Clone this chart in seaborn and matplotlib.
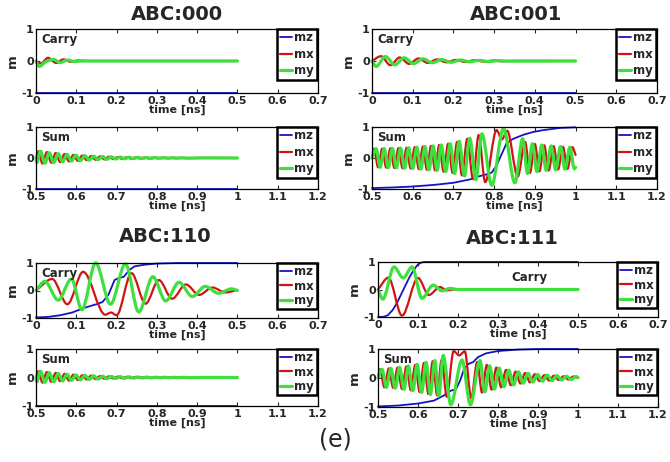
import matplotlib
matplotlib.use("Agg")
import matplotlib.pyplot as plt
from matplotlib.path import Path
from matplotlib.patches import PathPatch
from matplotlib.lines import Line2D
import seaborn as sns
import pandas as pd

# ---------------- data: (time [ns], m) points of each trace ----------------
carry_ticklabels = ["0", "0.1", "0.2", "0.3", "0.4", "0.5", "0.6", "0.7"]
sum_ticklabels = ["0.5", "0.6", "0.7", "0.8", "0.9", "1", "1.1", "1.2"]
titles = ["ABC:000", "ABC:001", "ABC:110", "ABC:111"]

# ABC:000 carry
c000_mz = [(0.0, -1.0), (0.5, -1.0)]
c000_mx = [(0.0, 0.0), (0.012, -0.08), (0.030, 0.10), (0.050, -0.06), (0.068, 0.05),
           (0.086, -0.025), (0.104, 0.015), (0.125, 0.0), (0.5, 0.0)]
c000_my = [(0.0, 0.0), (0.008, -0.17), (0.025, -0.02), (0.043, 0.05), (0.060, -0.05),
           (0.078, 0.03), (0.096, -0.015), (0.115, 0.0), (0.5, 0.0)]

# ABC:000 / ABC:110 sum (no switching)
s000_mz = [(0.5, -1.0), (1.0, -1.0)]
s000_mx = [(0.500, 0.0), (0.506, 0.22), (0.516, -0.18), (0.527, 0.19), (0.538, -0.15),
           (0.549, 0.16), (0.560, -0.13), (0.571, 0.13), (0.582, -0.11), (0.593, 0.10),
           (0.604, -0.09), (0.615, 0.08), (0.626, -0.07), (0.637, 0.065), (0.648, -0.055),
           (0.659, 0.05), (0.670, -0.045), (0.681, 0.04), (0.692, -0.035), (0.703, 0.03),
           (0.714, -0.027), (0.725, 0.024), (0.736, -0.021), (0.747, 0.019), (0.758, -0.017),
           (0.769, 0.015), (0.780, -0.013), (0.791, 0.012), (0.802, -0.011), (0.813, 0.010),
           (0.824, -0.009), (0.835, 0.008), (0.846, -0.007), (0.857, 0.006), (0.870, -0.005),
           (0.900, 0.003), (1.000, 0.0)]
s000_my = [(0.500, 0.0), (0.502, -0.15), (0.511, 0.22), (0.522, -0.17), (0.533, 0.17),
           (0.544, -0.15), (0.555, 0.14), (0.566, -0.12), (0.577, 0.115), (0.588, -0.10),
           (0.599, 0.09), (0.610, -0.085), (0.621, 0.075), (0.632, -0.068), (0.643, 0.06),
           (0.654, -0.052), (0.665, 0.047), (0.676, -0.042), (0.687, 0.037), (0.698, -0.032),
           (0.709, 0.029), (0.720, -0.026), (0.731, 0.023), (0.742, -0.02), (0.753, 0.018),
           (0.764, -0.016), (0.775, 0.014), (0.786, -0.013), (0.797, 0.012), (0.808, -0.011),
           (0.819, 0.01), (0.830, -0.009), (0.841, 0.008), (0.852, -0.007), (0.863, 0.006),
           (0.880, -0.005), (0.920, 0.002), (1.000, 0.0)]

# ABC:001 carry
c001_mz = [(0.0, -1.0), (0.5, -1.0)]
c001_mx = [(0.0, 0.0), (0.022, 0.15), (0.045, -0.13), (0.068, 0.11), (0.091, -0.09),
           (0.114, 0.08), (0.137, -0.06), (0.160, 0.05), (0.183, -0.04), (0.206, 0.035),
           (0.229, -0.03), (0.252, 0.025), (0.275, -0.02), (0.298, 0.015), (0.320, -0.01),
           (0.350, 0.005), (0.5, 0.0)]
c001_my = [(0.0, 0.0), (0.010, -0.17), (0.033, 0.14), (0.056, -0.12), (0.079, 0.10),
           (0.102, -0.085), (0.125, 0.07), (0.148, -0.055), (0.171, 0.045), (0.194, -0.04),
           (0.217, 0.03), (0.240, -0.025), (0.263, 0.02), (0.286, -0.015), (0.310, 0.01),
           (0.340, -0.005), (0.5, 0.0)]

# ABC:001 sum (switches -1 -> +1)
s001_mz = [(0.500, -0.97), (0.550, -0.95), (0.600, -0.92), (0.650, -0.87), (0.700, -0.80),
           (0.741, -0.69), (0.760, -0.60), (0.778, -0.54), (0.794, -0.47), (0.806, -0.24),
           (0.819, 0.14), (0.831, 0.49), (0.847, 0.62), (0.872, 0.75), (0.896, 0.84),
           (0.921, 0.90), (0.962, 0.97), (1.000, 0.99)]
s001_mx = [(0.500, 0.0), (0.505, 0.30), (0.515, -0.30), (0.525, 0.30), (0.535, -0.31),
           (0.545, 0.31), (0.555, -0.32), (0.565, 0.32), (0.575, -0.33), (0.585, 0.33),
           (0.595, -0.34), (0.605, 0.35), (0.615, -0.36), (0.625, 0.37), (0.635, -0.38),
           (0.645, 0.39), (0.655, -0.40), (0.665, 0.42), (0.676, -0.44), (0.687, 0.46),
           (0.698, -0.48), (0.709, 0.52), (0.721, -0.56), (0.734, 0.62), (0.748, -0.68),
           (0.762, 0.74), (0.778, -0.78), (0.806, 0.90), (0.819, 0.60), (0.832, 0.88),
           (0.858, -0.60), (0.876, 0.52), (0.888, -0.48), (0.900, 0.45), (0.911, -0.43),
           (0.923, 0.41), (0.934, -0.40), (0.946, 0.38), (0.957, -0.37), (0.969, 0.36),
           (0.980, -0.35), (0.992, 0.35), (1.000, 0.10)]
s001_my = [(0.500, 0.0), (0.510, 0.30), (0.520, -0.30), (0.530, 0.30), (0.540, -0.31),
           (0.550, 0.31), (0.560, -0.32), (0.570, 0.32), (0.580, -0.33), (0.590, 0.33),
           (0.600, -0.34), (0.610, 0.35), (0.620, -0.36), (0.630, 0.37), (0.640, -0.38),
           (0.650, 0.39), (0.660, -0.40), (0.670, 0.42), (0.681, -0.44), (0.692, 0.46),
           (0.703, -0.50), (0.714, 0.54), (0.727, -0.58), (0.740, 0.64), (0.755, -0.70),
           (0.770, 0.78), (0.794, -0.88), (0.823, 0.95), (0.851, -0.80), (0.870, 0.62),
           (0.882, -0.50), (0.894, 0.46), (0.905, -0.44), (0.917, 0.42), (0.928, -0.40),
           (0.940, 0.39), (0.951, -0.38), (0.963, 0.37), (0.974, -0.36), (0.986, 0.35),
           (0.997, -0.35), (1.000, -0.30)]

# ABC:110 carry (switches -1 -> +1)
c110_mz = [(0.0, -0.98), (0.030, -0.96), (0.060, -0.90), (0.090, -0.80), (0.120, -0.63),
           (0.150, -0.50), (0.165, -0.42), (0.180, -0.15), (0.195, 0.38), (0.205, 0.45),
           (0.218, 0.50), (0.232, 0.75), (0.245, 0.88), (0.270, 0.94), (0.300, 0.98),
           (0.350, 1.0), (0.5, 1.0)]
c110_mx = [(0.0, 0.0), (0.040, 0.42), (0.078, -0.50), (0.117, 0.68), (0.172, -0.88),
           (0.186, -0.80), (0.200, -0.90), (0.237, 0.63), (0.272, -0.48), (0.305, 0.38),
           (0.338, -0.30), (0.372, 0.22), (0.405, -0.16), (0.438, 0.11), (0.470, -0.07),
           (0.5, 0.02)]
c110_my = [(0.0, 0.0), (0.022, 0.33), (0.055, -0.35), (0.088, 0.42), (0.114, -0.70),
           (0.148, 1.0), (0.185, -0.50), (0.222, 0.97), (0.255, -0.78), (0.290, 0.50),
           (0.322, -0.38), (0.355, 0.30), (0.388, -0.22), (0.420, 0.15), (0.453, -0.10),
           (0.485, 0.06), (0.5, 0.0)]

# ABC:111 carry (fast switching)
c111_mz = [(0.0, -1.0), (0.015, -0.99), (0.025, -0.93), (0.037, -0.74), (0.047, -0.50),
           (0.057, -0.20), (0.067, 0.10), (0.077, 0.40), (0.088, 0.68), (0.098, 0.88),
           (0.106, 0.97), (0.115, 1.0), (0.5, 1.0)]
c111_mx = [(0.0, 0.0), (0.026, 0.43), (0.060, -0.95), (0.100, 0.42), (0.127, -0.20),
           (0.155, 0.09), (0.172, -0.03), (0.190, 0.0), (0.5, 0.0)]
c111_my = [(0.0, 0.0), (0.012, -0.35), (0.040, 0.82), (0.063, 0.42), (0.085, 0.82),
           (0.110, -0.32), (0.138, 0.16), (0.160, -0.05), (0.180, 0.04), (0.200, 0.0),
           (0.5, 0.0)]

# ABC:111 sum (switches -1 -> +1)
s111_mz = [(0.500, -0.98), (0.550, -0.95), (0.600, -0.88), (0.640, -0.78), (0.665, -0.60),
           (0.680, -0.45), (0.695, -0.38), (0.705, -0.10), (0.715, 0.30), (0.725, 0.48),
           (0.738, 0.55), (0.750, 0.72), (0.770, 0.85), (0.800, 0.93), (0.850, 0.98),
           (0.900, 1.0), (1.000, 1.0)]
s111_mx = [(0.500, 0.0), (0.505, 0.30), (0.516, -0.32), (0.527, 0.33), (0.538, -0.34),
           (0.549, 0.36), (0.560, -0.38), (0.571, 0.40), (0.582, -0.42), (0.593, 0.45),
           (0.604, -0.48), (0.615, 0.52), (0.626, -0.55), (0.637, 0.58), (0.648, -0.60),
           (0.659, 0.62), (0.672, -0.65), (0.689, 0.93), (0.703, 0.78), (0.717, 0.92),
           (0.733, -0.70), (0.748, 0.55), (0.760, -0.50), (0.772, 0.45), (0.784, -0.40),
           (0.796, 0.36), (0.808, -0.32), (0.820, 0.28), (0.832, -0.25), (0.844, 0.22),
           (0.856, -0.19), (0.868, 0.17), (0.880, -0.15), (0.892, 0.13), (0.904, -0.11),
           (0.916, 0.10), (0.928, -0.09), (0.940, 0.08), (0.952, -0.07), (0.964, 0.06),
           (0.976, -0.05), (0.988, 0.05), (1.000, 0.0)]
s111_my = [(0.500, 0.0), (0.510, 0.30), (0.521, -0.32), (0.532, 0.33), (0.543, -0.35),
           (0.554, 0.37), (0.565, -0.39), (0.576, 0.41), (0.587, -0.44), (0.598, 0.47),
           (0.609, -0.50), (0.620, 0.54), (0.631, -0.57), (0.642, 0.60), (0.652, -0.62),
           (0.663, 0.78), (0.682, -0.92), (0.710, 0.62), (0.731, -0.92), (0.755, 0.60),
           (0.767, -0.48), (0.779, 0.42), (0.791, -0.38), (0.803, 0.34), (0.815, -0.30),
           (0.827, 0.27), (0.839, -0.24), (0.851, 0.21), (0.863, -0.18), (0.875, 0.16),
           (0.887, -0.14), (0.899, 0.12), (0.911, -0.11), (0.923, 0.10), (0.935, -0.09),
           (0.947, 0.08), (0.959, -0.07), (0.971, 0.06), (0.983, -0.05), (0.995, 0.05),
           (1.000, 0.02)]

# ---------------- styling ----------------
sns.set_style("ticks")
plt.rcParams["font.family"] = ["DejaVu Sans"]
plt.rcParams["font.weight"] = "bold"
plt.rcParams["axes.labelweight"] = "bold"

BLUE, RED, GREEN = "#1414c4", "#d01414", "#3ee03e"
LW = {"mz": 1.3, "mx": 1.6, "my": 2.3}
W, H = 670, 462
fig = plt.figure(figsize=(W / 100, H / 100), dpi=100)


def rect(l, t, r, b):
    return [l / W, 1 - b / H, (r - l) / W, (b - t) / H]


def monotone_path(pts):
    """Smooth monotone cubic (Bezier) curve through the given points."""
    t = [p[0] for p in pts]
    v = [p[1] for p in pts]
    n = len(t)
    sec = [(v[i + 1] - v[i]) / (t[i + 1] - t[i]) for i in range(n - 1)]
    slope = [sec[0]] + [0.0] * (n - 2) + [sec[-1]]
    for i in range(1, n - 1):
        if sec[i - 1] * sec[i] > 0:
            slope[i] = 2.0 / (1.0 / sec[i - 1] + 1.0 / sec[i])
    verts, codes = [(t[0], v[0])], [Path.MOVETO]
    for i in range(n - 1):
        d = (t[i + 1] - t[i]) / 3.0
        verts += [(t[i] + d, v[i] + slope[i] * d),
                  (t[i + 1] - d, v[i + 1] - slope[i + 1] * d),
                  (t[i + 1], v[i + 1])]
        codes += [Path.CURVE4] * 3
    return Path(verts, codes)


def panel(box, mz, mx, my, start, ticklabels, tag, tag_pos=(0.018, 0.93),
          tag_ha="left", spacing=0.3):
    ax = fig.add_axes(rect(*box))
    df = pd.DataFrame(mz, columns=["t", "m"])
    sns.lineplot(data=df, x="t", y="m", color=BLUE, linewidth=LW["mz"], sort=False,
                 estimator=None, ax=ax, clip_on=False, zorder=2)
    for pts, color, name, z in ((mx, RED, "mx", 2.1), (my, GREEN, "my", 2.2)):
        ax.add_patch(PathPatch(monotone_path(pts), facecolor="none", edgecolor=color,
                               linewidth=LW[name], joinstyle="round", capstyle="round",
                               clip_on=False, zorder=z))
    ax.set_xlim(start, start + 0.7)
    ax.set_ylim(-1, 1)
    ax.set_xticks([start + 0.1 * i for i in range(8)])
    ax.set_xticklabels(ticklabels)
    ax.set_yticks([-1, 0, 1])
    ax.set_yticklabels(["-1", "0", "1"])
    ax.tick_params(direction="in", length=3, width=0.8, top=True, right=True,
                   labelsize=8, pad=1.5)
    ax.tick_params(axis="x", pad=2.5)
    ax.set_xlabel("time [ns]", fontsize=8, labelpad=-1)
    ax.set_ylabel("m", fontsize=9.5, labelpad=2)
    for s in ax.spines.values():
        s.set_linewidth(0.9)
        s.set_color("black")
    ax.text(*tag_pos, tag, transform=ax.transAxes, ha=tag_ha, va="top",
            fontsize=8.5, fontweight="bold")
    handles = [Line2D([], [], color=c, linewidth=LW[n]) for c, n in
               ((BLUE, "mz"), (RED, "mx"), (GREEN, "my"))]
    leg = ax.legend(handles, ["mz", "mx", "my"], loc="upper right",
                    bbox_to_anchor=(0.995, 1.0), borderaxespad=0.0,
                    frameon=True, fancybox=False, edgecolor="black", framealpha=1,
                    handlelength=1.0, handletextpad=0.25, labelspacing=spacing,
                    borderpad=0.2, prop={"weight": "bold", "size": 8.5})
    leg.get_frame().set_linewidth(1.8)
    return ax


# top row
panel((36, 29, 318, 93), c000_mz, c000_mx, c000_my, 0.0, carry_ticklabels, "Carry")
panel((36, 127, 318, 189), s000_mz, s000_mx, s000_my, 0.5, sum_ticklabels, "Sum")
panel((372, 29, 657, 93), c001_mz, c001_mx, c001_my, 0.0, carry_ticklabels, "Carry")
panel((372, 127, 657, 189), s001_mz, s001_mx, s001_my, 0.5, sum_ticklabels, "Sum")
# bottom row
panel((36, 263, 318, 318), c110_mz, c110_mx, c110_my, 0.0, carry_ticklabels, "Carry",
      spacing=0.1)
panel((36, 349, 318, 406), s000_mz, s000_mx, s000_my, 0.5, sum_ticklabels, "Sum",
      spacing=0.1)
panel((378, 262, 658, 317), c111_mz, c111_mx, c111_my, 0.0, carry_ticklabels, "Carry",
      tag_pos=(0.54, 0.83), tag_ha="center", spacing=0.1)
panel((378, 349, 658, 407), s111_mz, s111_mx, s111_my, 0.5, sum_ticklabels, "Sum",
      spacing=0.1)

# panel titles
for (x, y), title in zip([(177, 15), (516, 15), (165, 236), (512, 238)], titles):
    fig.text(x / W, 1 - y / H, title, ha="center", va="center", fontsize=14,
             fontweight="bold")

fig.text(335 / W, 1 - 440 / H, "(e)", ha="center", va="center", fontsize=17,
         fontweight="normal")

fig.savefig("out.png", dpi=100, facecolor="white")
